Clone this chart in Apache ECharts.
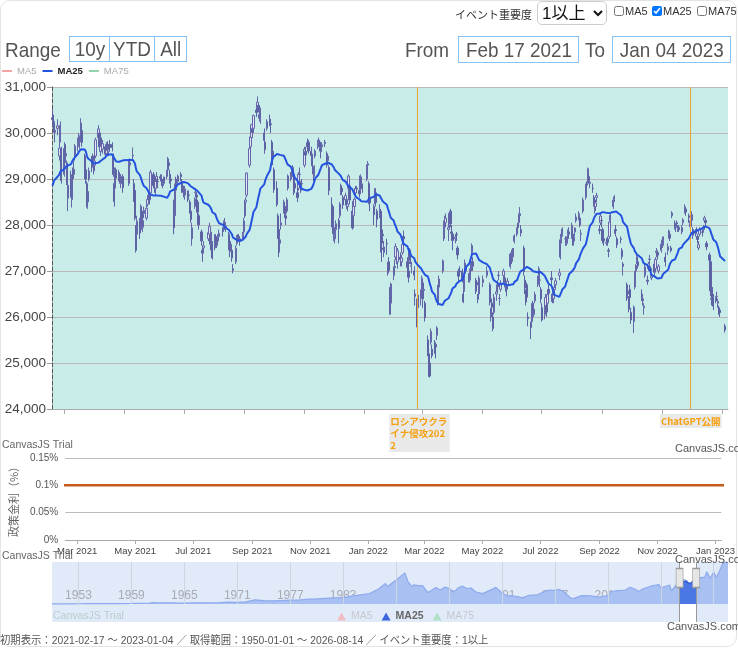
<!DOCTYPE html>
<html><head><meta charset="utf-8">
<script src="https://cdn.jsdelivr.net/npm/echarts@6/dist/echarts.min.js"></script>
<style>
html,body{margin:0;padding:0;width:738px;height:648px;overflow:hidden;background:#fff;font-family:'Liberation Sans',Arial,'Noto Sans CJK JP',sans-serif;color:#555;}
#card{position:absolute;left:0;top:0;width:735px;height:645px;border:1px solid #e4e4e4;border-radius:10px;}
#chart{position:absolute;left:0;top:0;width:738px;height:648px;}
.abs{position:absolute;white-space:nowrap;}
.big{font-size:21px;line-height:26px;color:#555;}
.sx{display:inline-block;transform:scaleX(0.9);transform-origin:left center;}
.sc{display:inline-block;transform:scaleX(0.9);transform-origin:center center;}
.btn{position:absolute;top:36px;height:24px;border:1px solid #86c2f5;font-size:21px;line-height:24px;text-align:center;color:#555;white-space:nowrap;overflow:hidden;}
.inp{position:absolute;top:36px;height:25px;border:1px solid #86c2f5;font-size:21px;line-height:25px;text-align:center;color:#555;white-space:nowrap;overflow:hidden;}
#sel{position:absolute;left:537px;top:1px;width:70px;height:24px;font-size:17px;border:1px solid #ccc;border-radius:5px;background:#fff;color:#111;font-family:'Liberation Sans','Noto Sans CJK JP',sans-serif;}
.cb{position:absolute;top:5px;font-size:11px;line-height:13px;color:#333;font-family:'Liberation Sans','Noto Sans CJK JP',sans-serif;}
.cb input{width:10px;height:10px;margin:0 1px 0 0;vertical-align:-1px;}
#foot{position:absolute;left:0;top:631px;font-size:11px;color:#555;white-space:nowrap;transform:scaleX(0.94);transform-origin:left center;font-family:'Liberation Sans','Noto Sans CJK JP',sans-serif;}
</style></head>
<body>
<div id="card"></div>
<div id="chart"></div>
<div class="abs" style="left:455px;top:6px;font-size:11px;color:#333;font-family:'Noto Sans CJK JP',sans-serif;">イベント重要度</div>
<select id="sel"><option>1以上</option></select>
<label class="cb" style="left:614px;"><input type="checkbox">MA5</label>
<label class="cb" style="left:652px;"><input type="checkbox" checked>MA25</label>
<label class="cb" style="left:697px;"><input type="checkbox">MA75</label>
<div class="abs big" style="left:5px;top:37px;"><span class="sx">Range</span></div>
<div class="btn" style="left:69px;width:39px;"><span class="sc">10y</span></div>
<div class="btn" style="left:109px;width:44px;"><span class="sc">YTD</span></div>
<div class="btn" style="left:154px;width:31px;"><span class="sc">All</span></div>
<div class="abs big" style="left:405px;top:37px;"><span class="sx">From</span></div>
<div class="inp" style="left:458px;width:119px;"><span class="sc">Feb 17 2021</span></div>
<div class="abs big" style="left:585px;top:37px;"><span class="sx">To</span></div>
<div class="inp" style="left:612px;width:117px;"><span class="sc">Jan 04 2023</span></div>
<div id="foot">初期表示：2021-02-17 〜 2023-01-04 ／ 取得範囲：1950-01-01 〜 2026-08-14 ／ イベント重要度：1以上</div>
<script>
// ---- data ----
// closes before the display range, only used to warm up the MA25
const preCloses = [28456,28698,28519,28242,28633,28523,28756,28631,28822,28546,28635,28197,27663,28091,28362,28646,28341,28779,29388,29505,29562,29520,30084,30467];
// [date, open, close, low, high]
const candles = [
["2021-02-17",30330,30292,30150,30520],["2021-02-18",30250,30236,30050,30400],["2021-02-19",30060,30017,29800,30220],["2021-02-22",30100,30156,29950,30300],["2021-02-24",29500,29671,29400,29800],["2021-02-25",29800,30168,29800,30250],["2021-02-26",29650,28966,28900,29700],
["2021-03-01",29100,29663,29050,29700],["2021-03-02",29750,29408,29300,29800],["2021-03-03",29500,29559,29350,29650],["2021-03-04",29350,28930,28870,29400],["2021-03-05",28580,28864,28300,29000],["2021-03-08",29020,28743,28600,29180],["2021-03-09",28550,29027,28380,29100],["2021-03-10",29200,29036,28900,29250],["2021-03-11",29100,29211,29000,29400],["2021-03-12",29500,29717,29400,29760],["2021-03-15",29750,29766,29600,29900],["2021-03-16",29900,29921,29700,30000],["2021-03-17",29800,29914,29650,29950],["2021-03-18",30000,30216,29900,30320],["2021-03-19",30050,29792,29700,30180],["2021-03-22",29500,29174,29000,29550],["2021-03-23",29200,28995,28900,29250],["2021-03-24",28900,28405,28380,28950],["2021-03-25",28500,28729,28350,28800],["2021-03-26",29000,29176,28950,29250],["2021-03-29",29300,29384,29150,29500],["2021-03-30",29500,29432,29250,29550],["2021-03-31",29400,29178,29100,29500],
["2021-04-01",29300,29388,29250,29550],["2021-04-02",29500,29854,29450,29900],["2021-04-05",29900,30089,29850,30170],["2021-04-06",30000,29696,29600,30050],["2021-04-07",29600,29730,29500,29800],["2021-04-08",29800,29708,29600,29900],["2021-04-09",29650,29768,29550,29850],["2021-04-12",29700,29538,29450,29750],["2021-04-13",29550,29751,29500,29800],["2021-04-14",29750,29620,29550,29820],["2021-04-15",29600,29642,29500,29700],["2021-04-16",29750,29683,29600,29850],["2021-04-19",29750,29685,29600,29800],["2021-04-20",29500,29100,29050,29550],["2021-04-21",28900,28508,28400,28950],["2021-04-22",28800,29188,28750,29250],["2021-04-23",29200,29020,28900,29250],["2021-04-26",29050,29126,28950,29200],["2021-04-27",29100,28991,28900,29150],["2021-04-28",28900,29053,28800,29100],["2021-04-30",29050,28812,28700,29100],
["2021-05-06",28900,29331,28850,29400],["2021-05-07",29300,29357,29200,29450],["2021-05-10",29500,29518,29400,29685],["2021-05-11",28900,28608,28500,29000],["2021-05-12",28750,28147,28100,28800],["2021-05-13",27900,27448,27400,28000],["2021-05-14",27800,28084,27750,28200],["2021-05-17",28100,27824,27700,28150],["2021-05-18",27900,28406,27850,28450],["2021-05-19",28300,28044,27950,28400],["2021-05-20",27950,28098,27850,28150],["2021-05-21",28250,28317,28150,28400],["2021-05-24",28150,28364,28100,28450],["2021-05-25",28450,28553,28400,28650],["2021-05-26",28600,28642,28500,28700],["2021-05-27",28650,28549,28450,28700],["2021-05-28",28700,29149,28650,29200],["2021-05-31",29100,28860,28800,29150],
["2021-06-01",28900,28814,28700,28950],["2021-06-02",28800,28946,28650,29000],["2021-06-03",29000,29058,28900,29150],["2021-06-04",28950,28941,28800,29050],["2021-06-07",29050,29019,28950,29100],["2021-06-08",29000,28963,28850,29100],["2021-06-09",28950,28860,28800,29000],["2021-06-10",28900,28958,28850,29050],["2021-06-11",29000,28948,28900,29050],["2021-06-14",29050,29161,29000,29200],["2021-06-15",29200,29441,29150,29480],["2021-06-16",29350,29291,29200,29400],["2021-06-17",29100,29018,28900,29200],["2021-06-18",29000,28964,28800,29100],["2021-06-21",28500,27937,27800,28550],["2021-06-22",28200,28884,28150,28900],["2021-06-23",29000,28874,28800,29050],["2021-06-24",28850,28875,28750,28950],["2021-06-25",28950,29066,28900,29100],["2021-06-28",29100,29048,28950,29150],["2021-06-29",28950,28812,28700,29000],["2021-06-30",28850,28791,28700,28900],
["2021-07-01",28750,28707,28600,28800],["2021-07-02",28650,28783,28550,28850],["2021-07-05",28700,28598,28500,28750],["2021-07-06",28650,28643,28550,28750],["2021-07-07",28500,28366,28250,28550],["2021-07-08",28300,28118,28050,28400],["2021-07-09",27700,27940,27550,28050],["2021-07-12",28400,28569,28350,28600],["2021-07-13",28700,28718,28600,28800],["2021-07-14",28650,28608,28500,28700],["2021-07-15",28500,28279,28200,28550],["2021-07-16",28200,28003,27900,28250],["2021-07-19",27850,27652,27550,27900],["2021-07-20",27450,27388,27200,27550],["2021-07-21",27500,27548,27400,27650],["2021-07-26",27700,27833,27650,27900],["2021-07-27",27800,27970,27750,28050],["2021-07-28",27700,27581,27450,27800],["2021-07-29",27650,27782,27600,27850],["2021-07-30",27600,27283,27250,27650],
["2021-08-02",27500,27781,27450,27800],["2021-08-03",27750,27641,27550,27800],["2021-08-04",27650,27584,27500,27700],["2021-08-05",27650,27728,27550,27800],["2021-08-06",27750,27820,27700,27900],["2021-08-10",27900,27888,27750,27950],["2021-08-11",27900,28070,27850,28100],["2021-08-12",28050,28015,27900,28150],["2021-08-13",27950,27977,27850,28050],["2021-08-16",27800,27523,27450,27850],["2021-08-17",27500,27424,27300,27600],["2021-08-18",27500,27585,27450,27650],["2021-08-19",27450,27281,27200,27500],["2021-08-20",27050,27013,26950,27150],["2021-08-23",27200,27494,27150,27550],["2021-08-24",27600,27732,27550,27780],["2021-08-25",27750,27724,27650,27800],["2021-08-26",27750,27742,27650,27800],["2021-08-27",27700,27641,27550,27750],["2021-08-30",27700,27789,27650,27850],["2021-08-31",27850,28089,27800,28150],
["2021-09-01",28200,28451,28150,28500],["2021-09-02",28500,28543,28400,28600],["2021-09-03",28650,29128,28600,29150],["2021-09-06",29300,29659,29250,29700],["2021-09-07",29700,29916,29600,29950],["2021-09-08",29900,30181,29850,30200],["2021-09-09",30100,30008,29900,30150],["2021-09-10",30100,30381,30050,30400],["2021-09-13",30500,30447,30350,30550],["2021-09-14",30550,30670,30500,30795],["2021-09-15",30600,30511,30450,30650],["2021-09-16",30400,30323,30250,30450],["2021-09-17",30300,30500,30200,30550],["2021-09-21",30000,29840,29700,30100],["2021-09-22",29800,29639,29550,29850],["2021-09-24",30100,30248,30050,30300],["2021-09-27",30300,30240,30150,30400],["2021-09-28",30200,30183,30000,30300],["2021-09-29",29800,29544,29400,29850],["2021-09-30",29600,29452,29300,29650],
["2021-10-01",29200,28771,28700,29250],["2021-10-04",28800,28444,28400,28950],["2021-10-05",28200,27822,27700,28250],["2021-10-06",27900,27528,27300,28000],["2021-10-07",27600,27678,27400,27800],["2021-10-08",28000,28048,27900,28250],["2021-10-11",28300,28498,28250,28550],["2021-10-12",28400,28230,28150,28500],["2021-10-13",28200,28140,28000,28250],["2021-10-14",28300,28550,28250,28600],["2021-10-15",28800,29068,28750,29100],["2021-10-18",29000,29025,28950,29150],["2021-10-19",29050,29215,29000,29250],["2021-10-20",29100,29255,29050,29300],["2021-10-21",29100,28708,28650,29150],["2021-10-22",28900,28804,28700,28950],["2021-10-25",28700,28600,28500,28850],["2021-10-26",28800,29106,28750,29150],["2021-10-27",29100,29098,28950,29250],["2021-10-28",28900,28820,28700,28950],["2021-10-29",28900,28892,28750,29000],
["2021-11-01",29300,29647,29250,29700],["2021-11-02",29600,29520,29400,29700],["2021-11-04",29700,29794,29600,29880],["2021-11-05",29800,29611,29550,29850],["2021-11-08",29600,29507,29400,29700],["2021-11-09",29500,29285,29200,29550],["2021-11-10",29200,29106,28950,29250],["2021-11-11",29100,29277,29050,29300],["2021-11-12",29500,29609,29450,29650],["2021-11-15",29700,29776,29650,29850],["2021-11-16",29750,29808,29700,29900],["2021-11-17",29800,29688,29600,29850],["2021-11-18",29600,29598,29450,29700],["2021-11-19",29700,29745,29600,29800],["2021-11-22",29800,29774,29700,29850],["2021-11-24",29550,29302,29250,29600],["2021-11-25",29400,29499,29350,29550],["2021-11-26",29250,28751,28650,29300],["2021-11-29",28400,28283,27950,28600],["2021-11-30",28400,27821,27800,28450],
["2021-12-01",27800,27935,27650,28200],["2021-12-02",27700,27753,27600,27950],["2021-12-03",27900,28029,27700,28100],["2021-12-06",28100,27927,27600,28150],["2021-12-07",28200,28455,28150,28500],["2021-12-08",28700,28860,28650,28900],["2021-12-09",28800,28725,28650,28850],["2021-12-10",28600,28437,28350,28650],["2021-12-13",28550,28640,28450,28700],["2021-12-14",28550,28432,28350,28600],["2021-12-15",28400,28459,28300,28500],["2021-12-16",28800,29066,28750,29100],["2021-12-17",28850,28545,28450,28900],["2021-12-20",28300,27937,27900,28350],["2021-12-21",28200,28517,28150,28550],["2021-12-22",28400,28562,28350,28600],["2021-12-23",28700,28798,28650,28850],["2021-12-24",28800,28782,28700,28850],["2021-12-27",28750,28676,28600,28800],["2021-12-28",28750,29069,28700,29100],["2021-12-29",29000,28906,28800,29050],["2021-12-30",28850,28791,28700,28900],
["2022-01-04",29000,29301,28950,29320],["2022-01-05",29300,29332,29150,29390],["2022-01-06",28900,28487,28450,28950],["2022-01-07",28600,28478,28300,28700],["2022-01-11",28400,28222,28000,28450],["2022-01-12",28500,28765,28450,28800],["2022-01-13",28700,28489,28400,28800],["2022-01-14",28300,28124,27950,28350],["2022-01-17",28200,28333,28150,28450],["2022-01-18",28300,27467,27400,28350],["2022-01-19",27500,27467,27200,27600],["2022-01-20",27800,27772,27600,27900],["2022-01-21",27400,27522,27300,27650],["2022-01-24",27600,27588,27350,27700],["2022-01-25",27000,27131,26900,27200],["2022-01-26",27200,27011,26950,27300],["2022-01-27",26600,26170,26050,26650],["2022-01-28",26300,26717,26050,26750],["2022-01-31",26900,27001,26800,27100],
["2022-02-01",27100,27078,26950,27250],["2022-02-02",27300,27533,27250,27600],["2022-02-03",27300,27241,27150,27400],["2022-02-04",27200,27439,27050,27500],["2022-02-07",27300,27248,27100,27400],["2022-02-08",27200,27284,27100,27350],["2022-02-09",27400,27579,27350,27650],["2022-02-10",27750,27696,27600,27880],["2022-02-14",27200,27079,26900,27300],["2022-02-15",27000,26865,26750,27100],["2022-02-16",27200,27460,27150,27500],["2022-02-17",27400,27232,27150,27450],["2022-02-18",27100,27122,26950,27200],["2022-02-21",27000,26910,26800,27100],["2022-02-22",26500,26449,26250,26600],["2022-02-24",26300,25970,25775,26400],["2022-02-25",26200,26476,26150,26550],["2022-02-28",26400,26526,26250,26600],
["2022-03-01",26600,26844,26500,26900],["2022-03-02",26500,26393,26200,26600],["2022-03-03",26600,26577,26450,26750],["2022-03-04",26300,25985,25900,26350],["2022-03-07",25500,25221,25150,25600],["2022-03-08",25200,24790,24700,25300],["2022-03-09",25000,24717,24682,25100],["2022-03-10",25450,25690,25400,25750],["2022-03-11",25300,25162,25100,25400],["2022-03-14",25350,25307,25200,25500],["2022-03-15",25400,25346,25100,25450],["2022-03-16",25600,25762,25500,25800],["2022-03-17",26300,26652,26250,26700],["2022-03-18",26650,26827,26500,26900],["2022-03-22",27000,27224,26950,27250],["2022-03-23",27700,28040,27650,28100],["2022-03-24",28000,28110,27900,28200],["2022-03-25",28050,28149,27950,28250],["2022-03-28",27900,27943,27650,28000],["2022-03-29",28000,28252,27950,28300],["2022-03-30",28300,28027,27950,28350],["2022-03-31",27850,27821,27700,28000],
["2022-04-01",27800,27665,27450,27850],["2022-04-04",27700,27736,27600,27800],["2022-04-05",27800,27787,27650,27850],["2022-04-06",27500,27350,27250,27550],["2022-04-07",27000,26888,26750,27050],["2022-04-08",27000,26985,26900,27100],["2022-04-11",27000,26821,26750,27050],["2022-04-12",26500,26334,26300,26600],["2022-04-13",26600,26843,26550,26900],["2022-04-14",27100,27172,27000,27250],["2022-04-15",27000,27093,26950,27150],["2022-04-18",26900,26799,26750,26950],["2022-04-19",26800,26985,26750,27050],["2022-04-20",27000,27217,26950,27250],["2022-04-21",27400,27553,27350,27600],["2022-04-22",27200,27105,27000,27300],["2022-04-25",26800,26590,26500,26850],["2022-04-26",26750,26700,26550,26800],["2022-04-27",26450,26386,26300,26500],["2022-04-28",26500,26847,26450,26900],
["2022-05-02",26750,26818,26650,26900],["2022-05-06",26900,27003,26850,27100],["2022-05-09",26700,26319,26250,26750],["2022-05-10",26000,26167,25900,26200],["2022-05-11",26300,26213,26100,26400],["2022-05-12",26000,25748,25690,26100],["2022-05-13",26100,26427,26050,26500],["2022-05-16",26500,26547,26350,26650],["2022-05-17",26700,26659,26500,26800],["2022-05-18",26900,26911,26800,27000],["2022-05-19",26400,26402,26250,26500],["2022-05-20",26600,26739,26550,26800],["2022-05-23",26900,27001,26850,27050],["2022-05-24",26850,26748,26650,26900],["2022-05-25",26650,26677,26550,26750],["2022-05-26",26650,26604,26450,26700],["2022-05-27",26700,26781,26650,26850],["2022-05-30",27100,27369,27050,27400],["2022-05-31",27300,27279,27150,27400],
["2022-06-01",27300,27457,27200,27500],["2022-06-02",27350,27413,27300,27500],["2022-06-03",27650,27761,27600,27800],["2022-06-06",27800,27915,27750,27950],["2022-06-07",28000,27943,27850,28050],["2022-06-08",28050,28234,28000,28250],["2022-06-09",28200,28246,28150,28389],["2022-06-10",27900,27824,27750,28000],["2022-06-13",27500,26987,26900,27550],["2022-06-14",26800,26629,26500,26900],["2022-06-15",26500,26326,26250,26600],["2022-06-16",26700,26431,26350,26750],["2022-06-17",26000,25963,25800,26100],["2022-06-20",25850,25771,25520,25900],["2022-06-21",25900,26246,25850,26300],["2022-06-22",26300,26149,26050,26350],["2022-06-23",26050,26171,26000,26250],["2022-06-24",26350,26491,26300,26550],["2022-06-27",26700,26871,26650,26900],["2022-06-28",26900,27049,26850,27100],["2022-06-29",26800,26804,26650,26900],["2022-06-30",26600,26393,26300,26650],
["2022-07-01",26200,25935,25900,26300],["2022-07-04",26050,26153,25950,26200],["2022-07-05",26200,26423,26150,26500],["2022-07-06",26250,26107,26000,26300],["2022-07-07",26300,26490,26250,26550],["2022-07-08",26600,26517,26400,26700],["2022-07-11",26850,26812,26700,27000],["2022-07-12",26500,26336,26300,26550],["2022-07-13",26400,26478,26300,26550],["2022-07-14",26600,26643,26450,26700],["2022-07-15",26700,26788,26600,26850],["2022-07-19",26900,26961,26800,27050],["2022-07-20",27300,27680,27250,27700],["2022-07-21",27700,27803,27600,27850],["2022-07-22",27800,27914,27750,27950],["2022-07-25",27700,27699,27550,27750],["2022-07-26",27650,27655,27550,27750],["2022-07-27",27600,27715,27550,27750],["2022-07-28",27800,27815,27650,27900],["2022-07-29",27850,27801,27700,27950],
["2022-08-01",27750,27993,27700,28050],["2022-08-02",27800,27594,27550,27850],["2022-08-03",27650,27741,27550,27800],["2022-08-04",27850,27932,27750,27950],["2022-08-05",28100,28175,28050,28250],["2022-08-08",28200,28249,28100,28300],["2022-08-09",28150,27999,27950,28200],["2022-08-10",27800,27819,27650,27900],["2022-08-12",28300,28546,28250,28600],["2022-08-15",28600,28871,28550,28900],["2022-08-16",28900,28868,28800,28950],["2022-08-17",28950,29222,28900,29250],["2022-08-18",29050,28942,28900,29100],["2022-08-19",28900,28930,28800,29000],["2022-08-22",28800,28794,28700,28900],["2022-08-23",28600,28452,28400,28650],["2022-08-24",28400,28313,28250,28450],["2022-08-25",28400,28479,28350,28550],["2022-08-26",28600,28641,28500,28700],["2022-08-29",27900,27878,27800,28000],["2022-08-30",28050,28195,28000,28250],["2022-08-31",28100,28091,27950,28150],
["2022-09-01",27900,27661,27600,27950],["2022-09-02",27700,27650,27550,27750],["2022-09-05",27600,27619,27550,27700],["2022-09-06",27700,27626,27550,27750],["2022-09-07",27450,27430,27300,27500],["2022-09-08",27750,28065,27700,28100],["2022-09-09",28100,28214,28050,28250],["2022-09-12",28400,28542,28350,28600],["2022-09-13",28550,28614,28500,28650],["2022-09-14",27900,27818,27750,28000],["2022-09-15",27900,27875,27800,27950],["2022-09-16",27700,27567,27500,27750],["2022-09-20",27700,27688,27600,27750],["2022-09-21",27450,27313,27250,27500],["2022-09-22",27100,27153,26900,27200],["2022-09-26",26700,26431,26350,26750],["2022-09-27",26500,26571,26400,26650],["2022-09-28",26400,26173,26100,26450],["2022-09-29",26600,26422,26350,26700],["2022-09-30",26100,25937,25850,26200],
["2022-10-03",25900,26215,25650,26250],["2022-10-04",26650,26992,26600,27000],["2022-10-05",27000,27120,26850,27150],["2022-10-06",27200,27311,27150,27400],["2022-10-07",27200,27116,27050,27300],["2022-10-11",26500,26401,26350,26600],["2022-10-12",26350,26396,26250,26450],["2022-10-13",26200,26237,26050,26300],["2022-10-14",26900,27090,26850,27150],["2022-10-17",26800,26775,26700,26900],["2022-10-18",27050,27156,27000,27200],["2022-10-19",27250,27257,27150,27350],["2022-10-20",27050,27006,26900,27100],["2022-10-21",26850,26890,26800,26950],["2022-10-24",27150,26974,26900,27200],["2022-10-25",27050,27250,27000,27300],["2022-10-26",27400,27431,27300,27500],["2022-10-27",27400,27345,27250,27450],["2022-10-28",27000,27105,26950,27150],["2022-10-31",27450,27587,27400,27650],
["2022-11-01",27600,27678,27500,27750],["2022-11-02",27650,27663,27550,27750],["2022-11-04",27300,27199,27100,27400],["2022-11-07",27450,27527,27350,27600],["2022-11-08",27800,27872,27700,27900],["2022-11-09",27800,27716,27650,27850],["2022-11-10",27500,27446,27400,27550],["2022-11-11",28200,28263,28150,28300],["2022-11-14",28000,27963,27900,28100],["2022-11-15",27950,27990,27850,28050],["2022-11-16",28050,28028,27950,28100],["2022-11-17",27900,27930,27850,28000],["2022-11-18",27950,27899,27850,28000],["2022-11-21",27850,27944,27800,28000],["2022-11-22",28050,28115,28000,28150],["2022-11-24",28300,28383,28250,28450],["2022-11-25",28350,28283,28200,28400],["2022-11-28",28200,28162,28050,28250],["2022-11-29",28000,28027,27950,28100],["2022-11-30",28050,27968,27900,28100],
["2022-12-01",28100,28226,28050,28300],["2022-12-02",27900,27777,27700,27950],["2022-12-05",27850,27820,27750,27900],["2022-12-06",27900,27885,27800,27950],["2022-12-07",27750,27686,27600,27800],["2022-12-08",27500,27574,27450,27650],["2022-12-09",27800,27901,27750,27950],["2022-12-12",27850,27842,27750,27900],["2022-12-13",27900,27954,27850,28000],["2022-12-14",28100,28156,28050,28200],["2022-12-15",28100,28051,27950,28150],["2022-12-16",27600,27527,27450,27650],["2022-12-19",27350,27237,27150,27400],["2022-12-20",27200,26568,26450,27250],["2022-12-21",26400,26387,26250,26500],["2022-12-22",26600,26507,26450,26650],["2022-12-23",26450,26235,26150,26500],["2022-12-26",26350,26405,26300,26450],["2022-12-27",26450,26447,26350,26550],["2022-12-28",26300,26340,26200,26400],["2022-12-29",26200,26093,26050,26250],["2022-12-30",26150,26094,26000,26200],
["2023-01-04",25800,25717,25660,25850]
];
const axisRange = ["2021-02-16T12", "2023-01-07T00"];
const monthTicks = ["2021-03","2021-05","2021-07","2021-09","2021-11","2022-01","2022-03","2022-05","2022-07","2022-09","2022-11","2023-01"];
const monthNames = ["Jan","Feb","Mar","Apr","May","Jun","Jul","Aug","Sep","Oct","Nov","Dec"];
const priceAxis = {min: 24000, max: 31000, step: 1000};
const eventDates = ["2022-02-24", "2022-11-30"];
const eventNames = ["ロシアウクライナ侵攻2022", "ChatGPT公開"];
const policyDates = ["2016-02-16", "2024-03-19"];
const policyRates = [0.1, 0.1];
const rateAxis = {min: 0, max: 0.15, step: 0.05};
const navYears = [1950,1950.5,1951,1952,1953,1953.2,1954,1955,1956,1957,1958,1959,1960,1961,1961.5,1962,1963,1964,1965,1966,1967,1968,1969,1970,1971,1972,1973,1974,1975,1976,1977,1978,1979,1980,1981,1982,1983,1984,1985,1986,1987,1987.8,1988,1989,1989.99,1990.3,1990.75,1991,1991.5,1992,1992.6,1993,1993.5,1994,1994.5,1995,1995.5,1996,1996.5,1997,1997.5,1998,1998.8,1999,2000,2000.3,2001,2001.7,2002,2003,2003.3,2004,2005,2006,2006.3,2007,2007.5,2008,2008.8,2009,2009.2,2010,2011,2011.2,2012,2013,2013.4,2014,2015,2015.5,2016,2016.5,2017,2018,2018.8,2019,2020,2020.2,2021,2021.1,2021.7,2022,2022.2,2023,2023.5,2024,2024.2,2024.6,2025,2025.3,2025.6,2025.8,2026,2026.3,2026.616];
const navValues = [100,90,120,180,340,300,350,360,430,590,490,670,880,1200,1830,1400,1450,1300,1200,1400,1450,1300,1700,2350,2000,2700,5200,4300,3800,4400,4900,5000,6000,6500,7100,7700,8000,9900,11500,13100,18700,25700,21500,30100,38900,29000,22000,23800,23000,22900,14300,16900,20500,17400,21000,19700,14500,19900,22500,19400,20000,15300,13000,13800,18900,20800,13800,9800,10500,8600,7700,10700,11500,16100,17500,17200,18200,15300,7200,8900,7100,10500,10200,8600,8500,10400,15600,16300,17500,20800,19000,15500,19100,22800,24200,20000,23700,16500,27400,30400,30200,28800,25000,26100,33000,33500,40300,32000,39900,33000,40000,45000,50300,52500,51500];
const navRange = {min: 1950, max: 2026.616, top: 52500};
const navLabelYears = [1953,1959,1965,1971,1977,1983,1989,1995,2001,2007,2013,2019,2025];
const selection = ["2021-02-17", "2023-01-04"];
const maColors = ["#f4a3a3", "#2453e0", "#94d4ae"];

// ---- helpers ----
function ts(s){const [d,t]=s.split('T');const p=d.split('-').map(Number);return Date.UTC(p[0],p[1]-1,p[2]||1,t?Number(t):0);}
function decYear(t){const y=new Date(t).getUTCFullYear();const a=Date.UTC(y,0,1),b=Date.UTC(y+1,0,1);return y+(t-a)/(b-a);}
const FONT = "'Liberation Sans',Arial,sans-serif";

const candleData = candles.map(r=>[ts(r[0]), r[1], r[2], r[3], r[4]]);
const allCloses = preCloses.concat(candles.map(r=>r[2]));
const ma25 = candles.map((r,i)=>{const k=i+preCloses.length;let s=0;for(let j=k-24;j<=k;j++)s+=allCloses[j];return [ts(r[0]), Math.round(s/25)];});
const monthTs = monthTicks.map(ts);
const fmtMonth = v=>{const d=new Date(v);return monthNames[d.getUTCMonth()]+' '+d.getUTCFullYear();};
const xMin = ts(axisRange[0]), xMax = ts(axisRange[1]);
const navMin = -navRange.top*18/42;
const selA = decYear(ts(selection[0])), selB = decYear(ts(selection[1]));
const handleY = navRange.top - (16/60)*(navRange.top - navMin);
const selData = candles.map(r=>[decYear(ts(r[0])), r[2]]);

const chart = echarts.init(document.getElementById('chart'));
chart.setOption({
  animation:false,
  textStyle:{fontFamily:FONT},
  legend:[
    {left:2, top:66, padding:0, icon:'rect', itemWidth:10, itemHeight:2, itemGap:6,
     textStyle:{fontSize:9.5, fontFamily:FONT},
     data:[{name:'MA5',textStyle:{color:'#aaa'}},{name:'MA25',textStyle:{color:'#222',fontWeight:'bold'}},{name:'MA75',textStyle:{color:'#aaa'}}]},
    {left:337, top:611, padding:0, icon:'triangle', itemWidth:9, itemHeight:8, itemGap:9,
     textStyle:{fontSize:10.5, fontFamily:FONT},
     data:[{name:'MA5',itemStyle:{color:'#f3bcc4'},textStyle:{color:'#c8c8d0'}},{name:'MA25',itemStyle:{color:'#3b66e0'},textStyle:{color:'#666',fontWeight:'bold'}},{name:'MA75',itemStyle:{color:'#b0e0c8'},textStyle:{color:'#c8c8d0'}}]}
  ],
  grid:[
    {left:52, top:87, width:676, height:322, show:true, backgroundColor:'#c8ede9', borderWidth:0},
    {left:52, top:458, width:676, height:82},
    {left:52, top:562, width:676, height:60, show:true, backgroundColor:'#e0eaf8', borderWidth:0}
  ],
  xAxis:[
    {gridIndex:0, type:'value', min:xMin, max:xMax, axisLabel:{show:false},
     axisTick:{show:true, customValues:monthTs, length:5, lineStyle:{color:'#aaa'}},
     axisLine:{lineStyle:{color:'#aaa'}}, splitLine:{show:false}},
    {gridIndex:1, type:'value', min:xMin, max:xMax,
     axisLabel:{customValues:monthTs, formatter:fmtMonth, fontSize:9.5, color:'#444', margin:6, fontFamily:FONT},
     axisTick:{show:true, customValues:monthTs, length:4, lineStyle:{color:'#aaa'}},
     axisLine:{lineStyle:{color:'#aaa'}}, splitLine:{show:false}},
    {gridIndex:2, type:'value', min:navRange.min, max:navRange.max, offset:-18,
     axisLine:{show:false}, axisTick:{show:false}, splitLine:{show:false},
     axisLabel:{customValues:navLabelYears, formatter:v=>String(v), inside:true, margin:2, fontSize:12, color:'#a8aab4', fontFamily:FONT}}
  ],
  yAxis:[
    {gridIndex:0, min:priceAxis.min, max:priceAxis.max, interval:priceAxis.step,
     axisLine:{show:true, lineStyle:{color:'#555', type:'dashed'}},
     axisTick:{show:true, length:5, lineStyle:{color:'#999'}},
     axisLabel:{fontSize:13.5, color:'#444', margin:6, fontFamily:FONT, formatter:v=>v.toLocaleString('en-US')},
     splitLine:{lineStyle:{color:'#b9b9b9'}}},
    {gridIndex:1, min:rateAxis.min, max:rateAxis.max, interval:rateAxis.step,
     axisLine:{show:false}, axisTick:{show:false},
     axisLabel:{fontSize:10, color:'#555', margin:7, fontFamily:FONT, formatter:v=>v+'%'},
     splitLine:{lineStyle:{color:'#bbb'}},
     name:'政策金利（%）', nameLocation:'middle', nameGap:33, nameRotate:90,
     nameTextStyle:{fontSize:11, color:'#666', fontFamily:"'Noto Sans CJK JP',sans-serif"}},
    {gridIndex:2, min:navMin, max:navRange.top, show:false}
  ],
  series:[
    {type:'candlestick', name:'N225', xAxisIndex:0, yAxisIndex:0, data:candleData, barWidth:1.8,
     itemStyle:{color:'#e4e4f6', color0:'#5d62a5', borderColor:'#6468aa', borderColor0:'#5d62a5', borderWidth:1},
     markLine:{silent:true, symbol:['none','none'], animation:false,
       lineStyle:{color:'#f0a232', width:1, type:'solid'},
       label:{show:true, position:'start', distance:5, formatter:p=>p.name, color:'#f5a00f', fontSize:9.5, fontWeight:'bold',
              backgroundColor:'#e9e9e9', padding:[1,1], lineHeight:12, fontFamily:"'Noto Sans CJK JP',sans-serif"},
       data:eventDates.map((d,i)=>({xAxis:ts(d), name:eventNames[i],
         label: i===0?{width:58.5, overflow:'breakAll', align:'left', offset:[-28,0]}:{}}))}},
    {type:'line', name:'MA5', xAxisIndex:0, yAxisIndex:0, data:[], color:maColors[0], showSymbol:false},
    {type:'line', name:'MA25', xAxisIndex:0, yAxisIndex:0, data:ma25, color:maColors[1], showSymbol:false,
     lineStyle:{width:2, color:maColors[1]}, z:5},
    {type:'line', name:'MA75', xAxisIndex:0, yAxisIndex:0, data:[], color:maColors[2], showSymbol:false},
    {type:'line', name:'政策金利', xAxisIndex:1, yAxisIndex:1, step:'end', showSymbol:false,
     data:policyDates.map((d,i)=>[ts(d), policyRates[i]]), lineStyle:{color:'#c65c1c', width:2.5}, color:'#c65c1c'},
    {type:'line', name:'navBg', xAxisIndex:2, yAxisIndex:2, data:[[navRange.min,0]], showSymbol:false, lineStyle:{opacity:0}, z:1, silent:true,
     markArea:{silent:true, itemStyle:{color:'#ffffff'}, data:[[{xAxis:selA},{xAxis:selB}]]},
     markLine:{silent:true, symbol:['none','none'], label:{show:false}, lineStyle:{color:'#cdd5e0', width:1, type:'solid'},
       data:navLabelYears.map(y=>[{coord:[y,0]},{coord:[y,navRange.top]}])}},
    {type:'line', name:'navAll', xAxisIndex:2, yAxisIndex:2, data:navYears.map((y,i)=>[y,navValues[i]]), showSymbol:false, z:2, silent:true,
     lineStyle:{color:'#8eaaee', width:1.2}, areaStyle:{color:'#a8c0f2', opacity:1}},
    {type:'line', name:'navSel', xAxisIndex:2, yAxisIndex:2, data:selData, showSymbol:false, z:3, silent:true,
     lineStyle:{color:'#1d47c9', width:1}, areaStyle:{color:'#4b77e4', opacity:1},
     markLine:{silent:true, symbol:['none','none'], label:{show:false}, lineStyle:{color:'#999', width:1, type:'solid'},
       data:[{xAxis:selA},{xAxis:selB}]},
     markPoint:{silent:true, label:{show:false}, symbol:'rect', symbolSize:[7,19],
       itemStyle:{color:'#e6e6e6', borderColor:'#999', borderWidth:1},
       data:[{coord:[selA,handleY]},{coord:[selB,handleY]}]}}
  ],
  graphic:[
    {type:'text', left:2, top:440, style:{text:'CanvasJS Trial', fontSize:10.5, fill:'#666', fontFamily:FONT}},
    {type:'text', left:675, top:443, style:{text:'CanvasJS.com', fontSize:11, fill:'#555', fontFamily:FONT}},
    {type:'text', left:2, top:551, style:{text:'CanvasJS Trial', fontSize:10.5, fill:'#666', fontFamily:FONT}},
    {type:'text', left:675, top:554, style:{text:'CanvasJS.com', fontSize:11, fill:'#555', fontFamily:FONT}, z:100},
    {type:'text', left:53, top:611, style:{text:'CanvasJS Trial', fontSize:10.5, fill:'#bcc', fontFamily:FONT}, z:100},
    {type:'text', left:667, top:621, style:{text:'CanvasJS.com', fontSize:11, fill:'#555', fontFamily:FONT}, z:100}
  ]
});
</script>
</body></html>
